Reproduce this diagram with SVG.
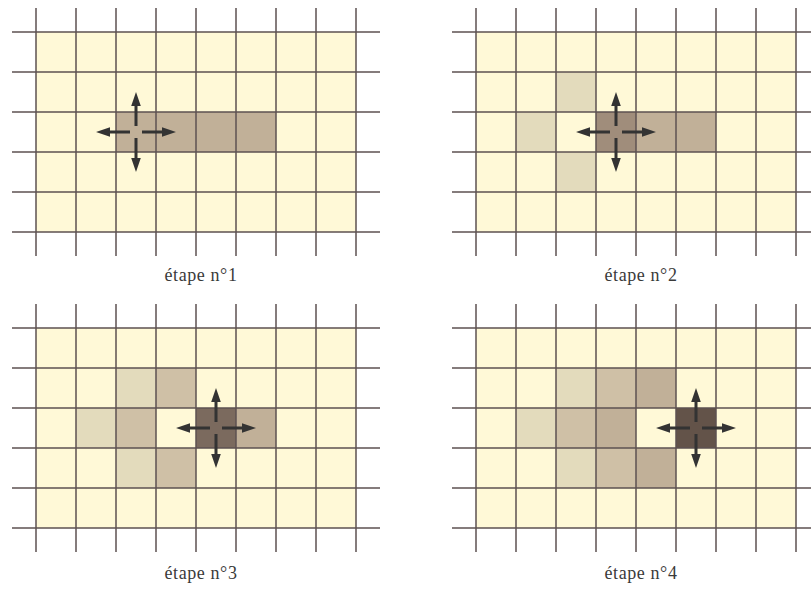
<svg xmlns="http://www.w3.org/2000/svg" xmlns:xlink="http://www.w3.org/1999/xlink" width="811" height="590" viewBox="0 0 811 590">
<style>
.bg{fill:#FFF9D7}
.c1{fill:#E3DBBC}
.c2{fill:#CFC0A6}
.c3{fill:#C1B098}
.d2{fill:#A08D7B}
.d3{fill:#7B6A5E}
.d4{fill:#635349}
.grid{stroke:#5E5252;stroke-width:1.5;fill:none}
.shaft{stroke:#333333;stroke-width:3;fill:none}
.head{fill:#333333}
.lbl{font-family:"Liberation Serif","DejaVu Serif",serif;font-size:18px;letter-spacing:0.6px;fill:#3a3a3a;text-anchor:middle}
</style>
<defs>
<g id="gridlines" class="grid">
<path d="M36 8V256M76 8V256M116 8V256M156 8V256M196 8V256M236 8V256M276 8V256M316 8V256M356 8V256"/>
<path d="M12 32H380M12 72H380M12 112H380M12 152H380M12 192H380M12 232H380"/>
</g>
<g id="cross">
<path class="shaft" d="M0 -6V-28M0 6V28M-6 0H-28M6 0H28"/>
<path class="head" d="M0 -40L-4.8 -26L4.8 -26ZM0 40L-4.8 26L4.8 26ZM-40 0L-26 -4.8L-26 4.8ZM40 0L26 -4.8L26 4.8Z"/>
</g>
</defs>
<g id="panel1">
<rect class="bg" x="36" y="32" width="320" height="200"/>
<rect class="c3" x="116" y="112" width="160" height="40"/>
<use xlink:href="#gridlines"/>
<use xlink:href="#cross" x="136" y="132"/>
<text class="lbl" x="201" y="281">étape n°1</text>
</g>
<g id="panel2" transform="translate(440,0)">
<rect class="bg" x="36" y="32" width="320" height="200"/>
<rect class="c1" x="116" y="72" width="40" height="40"/>
<rect class="c1" x="76" y="112" width="40" height="40"/>
<rect class="c1" x="116" y="152" width="40" height="40"/>
<rect class="d2" x="156" y="112" width="40" height="40"/>
<rect class="c3" x="196" y="112" width="80" height="40"/>
<use xlink:href="#gridlines"/>
<use xlink:href="#cross" x="176" y="132"/>
<text class="lbl" x="201" y="281">étape n°2</text>
</g>
<g id="panel3" transform="translate(0,296)">
<rect class="bg" x="36" y="32" width="320" height="200"/>
<rect class="c1" x="116" y="72" width="40" height="40"/>
<rect class="c1" x="76" y="112" width="40" height="40"/>
<rect class="c1" x="116" y="152" width="40" height="40"/>
<rect class="c2" x="156" y="72" width="40" height="40"/>
<rect class="c2" x="116" y="112" width="40" height="40"/>
<rect class="c2" x="156" y="152" width="40" height="40"/>
<rect class="d3" x="196" y="112" width="40" height="40"/>
<rect class="c3" x="236" y="112" width="40" height="40"/>
<use xlink:href="#gridlines"/>
<use xlink:href="#cross" x="216" y="132"/>
<text class="lbl" x="201" y="283">étape n°3</text>
</g>
<g id="panel4" transform="translate(440,296)">
<rect class="bg" x="36" y="32" width="320" height="200"/>
<rect class="c1" x="116" y="72" width="40" height="40"/>
<rect class="c1" x="76" y="112" width="40" height="40"/>
<rect class="c1" x="116" y="152" width="40" height="40"/>
<rect class="c2" x="156" y="72" width="40" height="40"/>
<rect class="c2" x="116" y="112" width="40" height="40"/>
<rect class="c2" x="156" y="152" width="40" height="40"/>
<rect class="c3" x="196" y="72" width="40" height="40"/>
<rect class="c3" x="156" y="112" width="40" height="40"/>
<rect class="c3" x="196" y="152" width="40" height="40"/>
<rect class="d4" x="236" y="112" width="40" height="40"/>
<use xlink:href="#gridlines"/>
<use xlink:href="#cross" x="256" y="132"/>
<text class="lbl" x="201" y="283">étape n°4</text>
</g>
</svg>
